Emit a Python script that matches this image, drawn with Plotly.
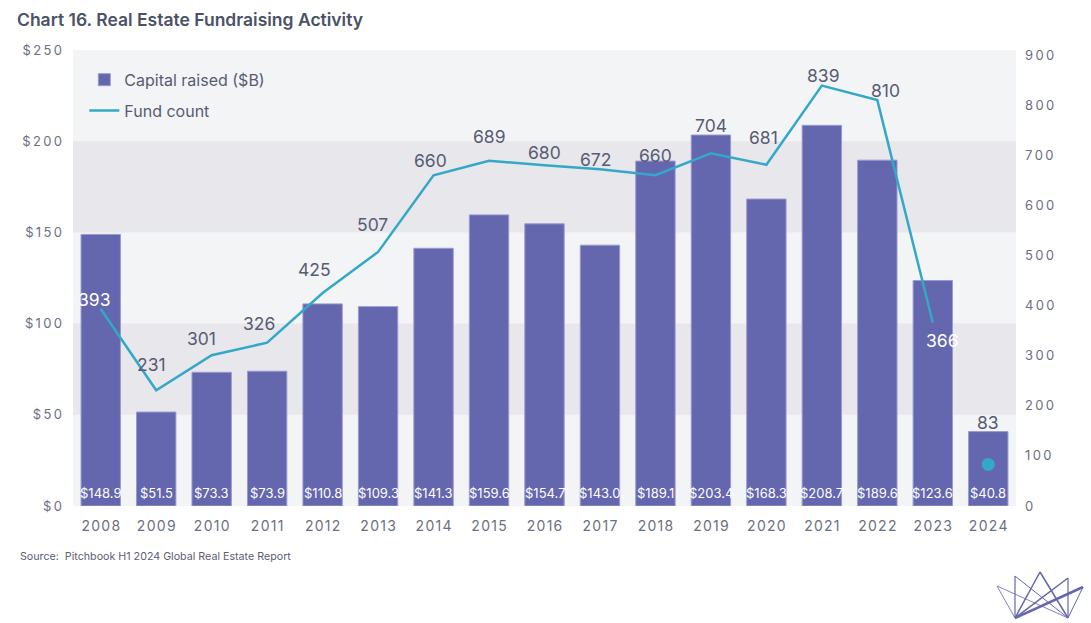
import plotly.graph_objects as go

# --- dados ---
years = ["2008", "2009", "2010", "2011", "2012", "2013", "2014", "2015", "2016",
         "2017", "2018", "2019", "2020", "2021", "2022", "2023", "2024"]
capital = [148.9, 51.5, 73.3, 73.9, 110.8, 109.3, 141.3, 159.6, 154.7,
           143.0, 189.1, 203.4, 168.3, 208.7, 189.6, 123.6, 40.8]
fund_count = [393, 231, 301, 326, 425, 507, 660, 689, 680,
              672, 660, 704, 681, 839, 810, 366, 83]
left_ticks = [0, 50, 100, 150, 200, 250]
right_ticks = [0, 100, 200, 300, 400, 500, 600, 700, 800, 900]

# deslocamento dos rótulos da linha (px) - só estilo
label_dx = [-7, -5, -10, -8, -8, -6, -3, 0, 0, -4, 0, 0, -3, 2, 8, 10, 0]
label_dy = [10, 26, 17, 19, 24, 27, 15, 24, 13, 10, 20, 28, 27, 10, 10, -18, 42]
white_labels = ["2008", "2023"]

BAR = "#6466AE"
LINE = "#33A8C8"
TXT = "#575C72"
TICK = "#6B6F82"
FONT = "Inter"


def spaced(s, sep="\u2009"):
    return sep.join(s)


fig = go.Figure()

fig.add_trace(go.Bar(
    x=years, y=capital, name="Capital raised ($B)", legendgroup="a",
    marker=dict(color=BAR, line=dict(color="#9A9AD2", width=1)),
    yaxis="y",
))

# linha sem o ponto de 2024
fig.add_trace(go.Scatter(
    x=years[:-1], y=fund_count[:-1], name="Fund count", legendgroup="b",
    mode="lines", line=dict(color=LINE, width=2.5),
    yaxis="y2",
))
fig.add_trace(go.Scatter(
    x=years[-1:], y=fund_count[-1:], mode="markers",
    marker=dict(color=LINE, size=13), showlegend=False,
    yaxis="y2",
))

# faixas de fundo
for lo in [50, 150]:
    fig.add_shape(type="rect", xref="paper", yref="y", x0=0, x1=1, y0=lo, y1=lo + 50,
                  fillcolor="#E7E7EC", line=dict(width=0), layer="below")

# no eixo categórico as anotações usam o índice da categoria
annotations = []
for i, v in enumerate(capital):
    annotations.append(dict(x=i, y=0, xref="x", yref="y", text="$" + f"{v:.1f}",
                            showarrow=False, yanchor="middle", yshift=13,
                            font=dict(family=FONT, size=13, color="white")))

for i, (yr, n) in enumerate(zip(years, fund_count)):
    annotations.append(dict(x=i, y=n, xref="x", yref="y2", text=str(n),
                            showarrow=False, xshift=label_dx[i], yshift=label_dy[i],
                            font=dict(family=FONT, size=17.5,
                                      color="white" if yr in white_labels else TXT)))

annotations.append(dict(x=-0.0583, y=-0.11, xref="paper", yref="paper",
                        text="Source:  Pitchbook H1 2024 Global Real Estate Report",
                        showarrow=False, xanchor="left", yanchor="middle",
                        font=dict(family=FONT, size=10.7, color="#5C6074")))

# logo (decoração) no canto inferior direito
def px2paper(px, py):
    return (px - 73) / 943, (506 - py) / 456

BL, BR = (1015, 618), (1068, 618)
tops = [(997, 586), (1015, 576), (1040, 572), (1068, 578), (1083, 587)]
logo_w = [[0.8, 0.8], [1.2, 1.0], [1.5, 1.5], [1.5, 1.2], [2.5, 1.0]]
for t, w in zip(tops, logo_w):
    for b, lw in zip([BL, BR], w):
        x0, y0 = px2paper(*t)
        x1, y1 = px2paper(*b)
        fig.add_shape(type="line", xref="paper", yref="paper", x0=x0, y0=y0, x1=x1, y1=y1,
                      line=dict(color="#6466AE", width=lw))

fig.update_layout(
    width=1091, height=623,
    margin=dict(l=73, r=75, t=50, b=117),
    paper_bgcolor="white",
    plot_bgcolor="#F3F4F6",
    font=dict(family=FONT, color=TICK),
    title=dict(text="Chart 16. Real Estate Fundraising Activity",
               x=17 / 1091, xref="container", xanchor="left",
               y=1 - 20 / 623, yref="container", yanchor="middle",
               font=dict(family=FONT, size=17.5, color="#4B5166", weight=600)),
    bargap=0.29,
    showlegend=True,
    legend=dict(x=0.012, y=0.972, xanchor="left", yanchor="top",
                bgcolor="rgba(0,0,0,0)", font=dict(family=FONT, size=16, color=TXT),
                tracegroupgap=7),
    xaxis=dict(type="category", range=[-0.5, len(years) - 0.5], showgrid=False,
               showline=False, ticks="", ticklabelstandoff=10,
               tickvals=years, ticktext=[spaced(y, "\u200a") for y in years],
               tickfont=dict(size=14, color=TICK)),
    yaxis=dict(range=[0, 250], tickvals=left_ticks,
               ticktext=[spaced("$" + str(t)) for t in left_ticks],
               showgrid=False, zeroline=False, ticks="", ticklabelstandoff=10,
               tickfont=dict(size=13, color=TICK)),
    yaxis2=dict(range=[0, 910], tickvals=right_ticks,
                ticktext=[spaced(str(t)) for t in right_ticks],
                overlaying="y", side="right", showgrid=False, zeroline=False,
                ticks="", ticklabelstandoff=8, tickfont=dict(size=13, color=TICK)),
    annotations=annotations,
)

fig.write_html("out.html", config={"displayModeBar": False},
               post_script="document.body.style.margin='0';")
